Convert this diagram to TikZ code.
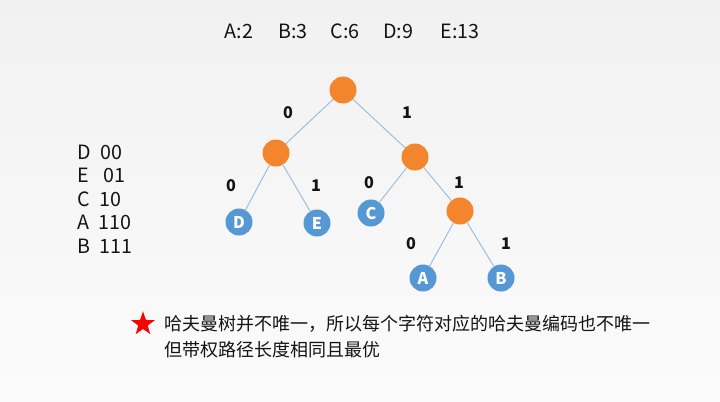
\documentclass[tikz,border=0pt]{standalone}
\usepackage{fontspec}
\setmainfont{Noto Sans CJK SC}
\usetikzlibrary{shapes.geometric}

\definecolor{nodeorange}{RGB}{243,133,45}
\definecolor{leafblue}{RGB}{86,152,212}
\definecolor{edgeblue}{RGB}{155,190,222}
\definecolor{textgray}{RGB}{20,20,20}

\begin{document}
\begin{tikzpicture}[x=0.025cm, y=-0.025cm,
    inner/.style={circle, fill=nodeorange, minimum size=27*0.025cm, inner sep=0pt},
    leaf/.style={circle, fill=leafblue, minimum size=27*0.025cm, inner sep=0pt, text=white, font=\fontsize{11.5}{13}\selectfont\bfseries},
    branch/.style={draw=edgeblue, line width=0.7pt},
    bit/.style={font=\fontsize{11.5}{13}\selectfont\bfseries, text=textgray},
    weight/.style={font=\fontsize{14}{16}\selectfont, text=textgray},
    code/.style={font=\fontsize{14}{16}\selectfont, text=textgray, anchor=west},
    note/.style={font=\fontsize{12.8}{18.5}\selectfont, text=textgray, align=left, anchor=west}
]

% Background
\shade[top color=gray!11, bottom color=gray!3] (0,0) rectangle (720,401);
\useasboundingbox (0,0) rectangle (720,401);

% Weights
\node[weight] (wA) at (239,31) {A:2};
\node[weight] (wB) at (293,31) {B:3};
\node[weight] (wC) at (345,31) {C:6};
\node[weight] (wD) at (398,31) {D:9};
\node[weight] (wE) at (460,31) {E:13};

% Huffman tree
\node[inner] (root) at (343,90) {};
\node[inner] (n0) at (276,153) {};
\node[inner] (n1) at (415,157) {};
\node[inner] (n11) at (460,211) {};
\node[leaf] (D) at (239,222) {D};
\node[leaf] (E) at (317,223) {E};
\node[leaf] (C) at (371,213) {C};
\node[leaf] (A) at (423,278) {A};
\node[leaf] (B) at (501,278) {B};

\draw[branch] (root) -- (n0);
\draw[branch] (root) -- (n1);
\draw[branch] (n0) -- (D);
\draw[branch] (n0) -- (E);
\draw[branch] (n1) -- (C);
\draw[branch] (n1) -- (n11);
\draw[branch] (n11) -- (A);
\draw[branch] (n11) -- (B);

% Branch bits
\node[bit] (b0) at (288,113) {0};
\node[bit] (b1) at (407,113) {1};
\node[bit] (b00) at (231,186) {0};
\node[bit] (b01) at (316,186) {1};
\node[bit] (b10) at (369,183) {0};
\node[bit] (b11) at (459,183) {1};
\node[bit] (b110) at (411,244) {0};
\node[bit] (b111) at (506,244) {1};

% Codes
\node[code] (cD) at (73,152) {D\hspace{0.45em}00};
\node[code] (cE) at (73,175) {E\hspace{0.7em}01};
\node[code] (cC) at (73,199) {C\hspace{0.45em}10};
\node[code] (cA) at (73,222) {A\hspace{0.45em}110};
\node[code] (cB) at (73,246) {B\hspace{0.45em}111};

% Note
\node[star, star points=5, star point ratio=2.5, fill=red, minimum size=25*0.025cm, inner sep=0pt] (mark) at (143,324) {};
\node[note] (remark) at (160,337) {哈夫曼树并不唯一，所以每个字符对应的哈夫曼编码也不唯一\\但带权路径长度相同且最优};

\end{tikzpicture}
\end{document}
